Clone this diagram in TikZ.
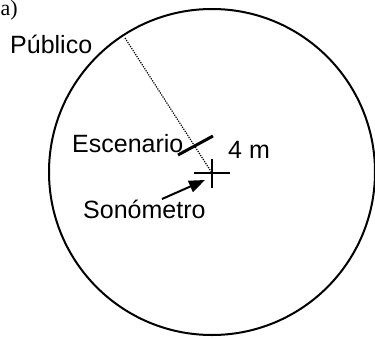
\documentclass[tikz,border=0pt]{standalone}
\usepackage{fontspec}
\setmainfont{Liberation Sans}
\newfontfamily\serifpart{Liberation Serif}
\usetikzlibrary{arrows.meta}
\tikzset{
  lbl/.style={inner sep=0pt, anchor=base west, font=\fontsize{25}{29}\selectfont},
}
\begin{document}
\begin{tikzpicture}[x=1pt, y=-1pt]
    \useasboundingbox (0,0) rectangle (375,338);

    % Draw stage area
    \node[circle, draw, line width=2pt, minimum size=326pt, inner sep=0pt] (area) at (212,172) {};

    % Draw measuring point
    \coordinate (sono) at (212,173);
    \draw[line width=1.6pt] (194,173) -- (230,173);
    \draw[line width=1.6pt] (212,159) -- (212,188);

    % Draw distance line
    \coordinate (edge) at (125,38);
    \draw[line width=1.2pt, dash pattern=on 1.2pt off 1.2pt] (edge) -- (sono);

    % Draw stage
    \coordinate (escA) at (178,155);
    \coordinate (escB) at (213,136);
    \draw[line width=3pt] (escA) -- (escB);

    % Draw labels
    \node[lbl, anchor=north west, font=\serifpart\fontsize{22}{26}\selectfont] (fig) at (0.5,0.5) {a)};
    \node[lbl] (pub) at (10,53) {Público};
    \node[lbl] (esc) at (72,152) {Escenario};
    \node[lbl] (dist) at (228,158) {4 m};
    \node[lbl] (son) at (83,218) {Sonómetro};

    % Draw arrow
    \coordinate (tail) at (162,199);
    \coordinate (tip) at (205,180);
    \draw[line width=2pt, -{Triangle[length=16pt, width=12pt]}] (tail) -- (tip);
  \end{tikzpicture}
\end{document}
